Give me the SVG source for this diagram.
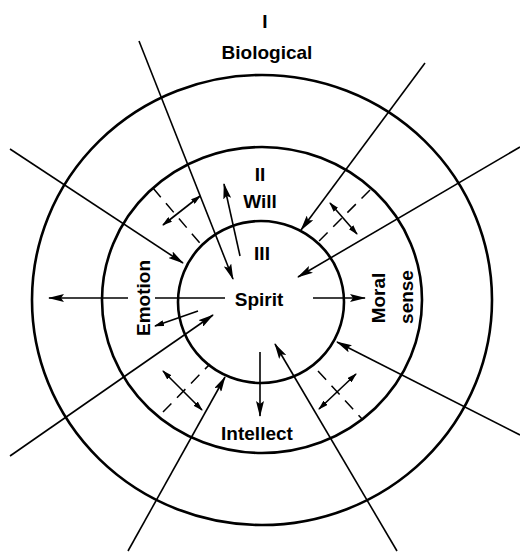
<svg xmlns="http://www.w3.org/2000/svg" width="520" height="552" viewBox="0 0 520 552">
<style>
.ring{fill:none;stroke:#000;stroke-width:2.6}
.ln{fill:none;stroke:#000;stroke-width:1.6}
.dash{fill:none;stroke:#000;stroke-width:1.5;stroke-dasharray:12 8}
.t{font-family:"Liberation Sans",Arial,sans-serif;font-weight:bold;font-size:19px;fill:#000;text-anchor:middle}
</style>
<defs>
<marker id="ah" markerUnits="userSpaceOnUse" markerWidth="16" markerHeight="8" refX="15" refY="4" orient="auto-start-reverse">
<path d="M0,0 L16,4 L0,8 L3,4 z" fill="#000"/>
</marker>
<marker id="sh" markerUnits="userSpaceOnUse" markerWidth="10" markerHeight="6" refX="9" refY="3" orient="auto-start-reverse">
<path d="M0,0 L10,3 L0,6 z" fill="#000"/>
</marker>
</defs>
<g id="rings">
<ellipse id="ring-biological" class="ring" cx="262" cy="300" rx="230" ry="225"/>
<ellipse id="ring-middle" class="ring" cx="262" cy="300" rx="160" ry="153"/>
<ellipse id="ring-spirit" class="ring" cx="261" cy="302" rx="83" ry="81"/>
</g>
<g id="connectors">
<line class="ln" x1="139" y1="41" x2="233" y2="279" marker-end="url(#ah)"/>
<line class="ln" x1="10" y1="149" x2="183" y2="263" marker-end="url(#ah)"/>
<line class="ln" x1="425" y1="63" x2="301" y2="230" marker-end="url(#ah)"/>
<line class="ln" x1="520" y1="147" x2="298" y2="277" marker-end="url(#ah)"/>
<line class="ln" x1="520" y1="435" x2="337" y2="342" marker-end="url(#ah)"/>
<line class="ln" x1="397" y1="551" x2="275" y2="344" marker-end="url(#ah)"/>
<line class="ln" x1="128" y1="551" x2="225" y2="377" marker-end="url(#ah)"/>
<line class="ln" x1="10" y1="456" x2="213" y2="315" marker-end="url(#ah)"/>
<line class="ln" x1="225" y1="298" x2="155" y2="298"/>
<line class="ln" x1="128" y1="298" x2="49" y2="298" marker-end="url(#ah)"/>
<line class="ln" x1="313" y1="298" x2="365" y2="298" marker-end="url(#ah)"/>
<line class="ln" x1="260" y1="352" x2="260" y2="416" marker-end="url(#ah)"/>
<line class="ln" x1="240" y1="256" x2="224" y2="184" marker-end="url(#ah)"/>
<line class="ln" x1="198" y1="311" x2="155" y2="326" marker-end="url(#sh)"/>
<line class="dash" x1="153" y1="188" x2="204" y2="248"/>
<line class="ln" x1="163" y1="225" x2="200" y2="196" marker-start="url(#sh)" marker-end="url(#sh)"/>
<line class="dash" x1="370" y1="190" x2="318" y2="242"/>
<line class="ln" x1="330" y1="203" x2="357" y2="234" marker-start="url(#sh)" marker-end="url(#sh)"/>
<line class="dash" x1="163" y1="412" x2="210" y2="364"/>
<line class="ln" x1="163" y1="371" x2="202" y2="410" marker-start="url(#sh)" marker-end="url(#sh)"/>
<line class="dash" x1="318" y1="371" x2="362" y2="419"/>
<line class="ln" x1="319" y1="409" x2="356" y2="374" marker-start="url(#sh)" marker-end="url(#sh)"/>
</g>
<g id="label-biological">
<text class="t" x="265" y="28">I</text>
<text class="t" x="267" y="59">Biological</text>
</g>
<g id="label-will">
<text class="t" x="260" y="181">II</text>
<text class="t" x="260" y="208">Will</text>
</g>
<g id="label-spirit">
<text class="t" x="262" y="260">III</text>
<text class="t" x="259" y="306">Spirit</text>
</g>
<g id="label-emotion">
<text class="t" transform="translate(150,298) rotate(-90)">Emotion</text>
</g>
<g id="label-moral">
<text class="t" transform="translate(385,298) rotate(-90)">Moral</text>
<text class="t" transform="translate(413,297) rotate(-90)">sense</text>
</g>
<g id="label-intellect">
<text class="t" x="257" y="440">Intellect</text>
</g>
</svg>
